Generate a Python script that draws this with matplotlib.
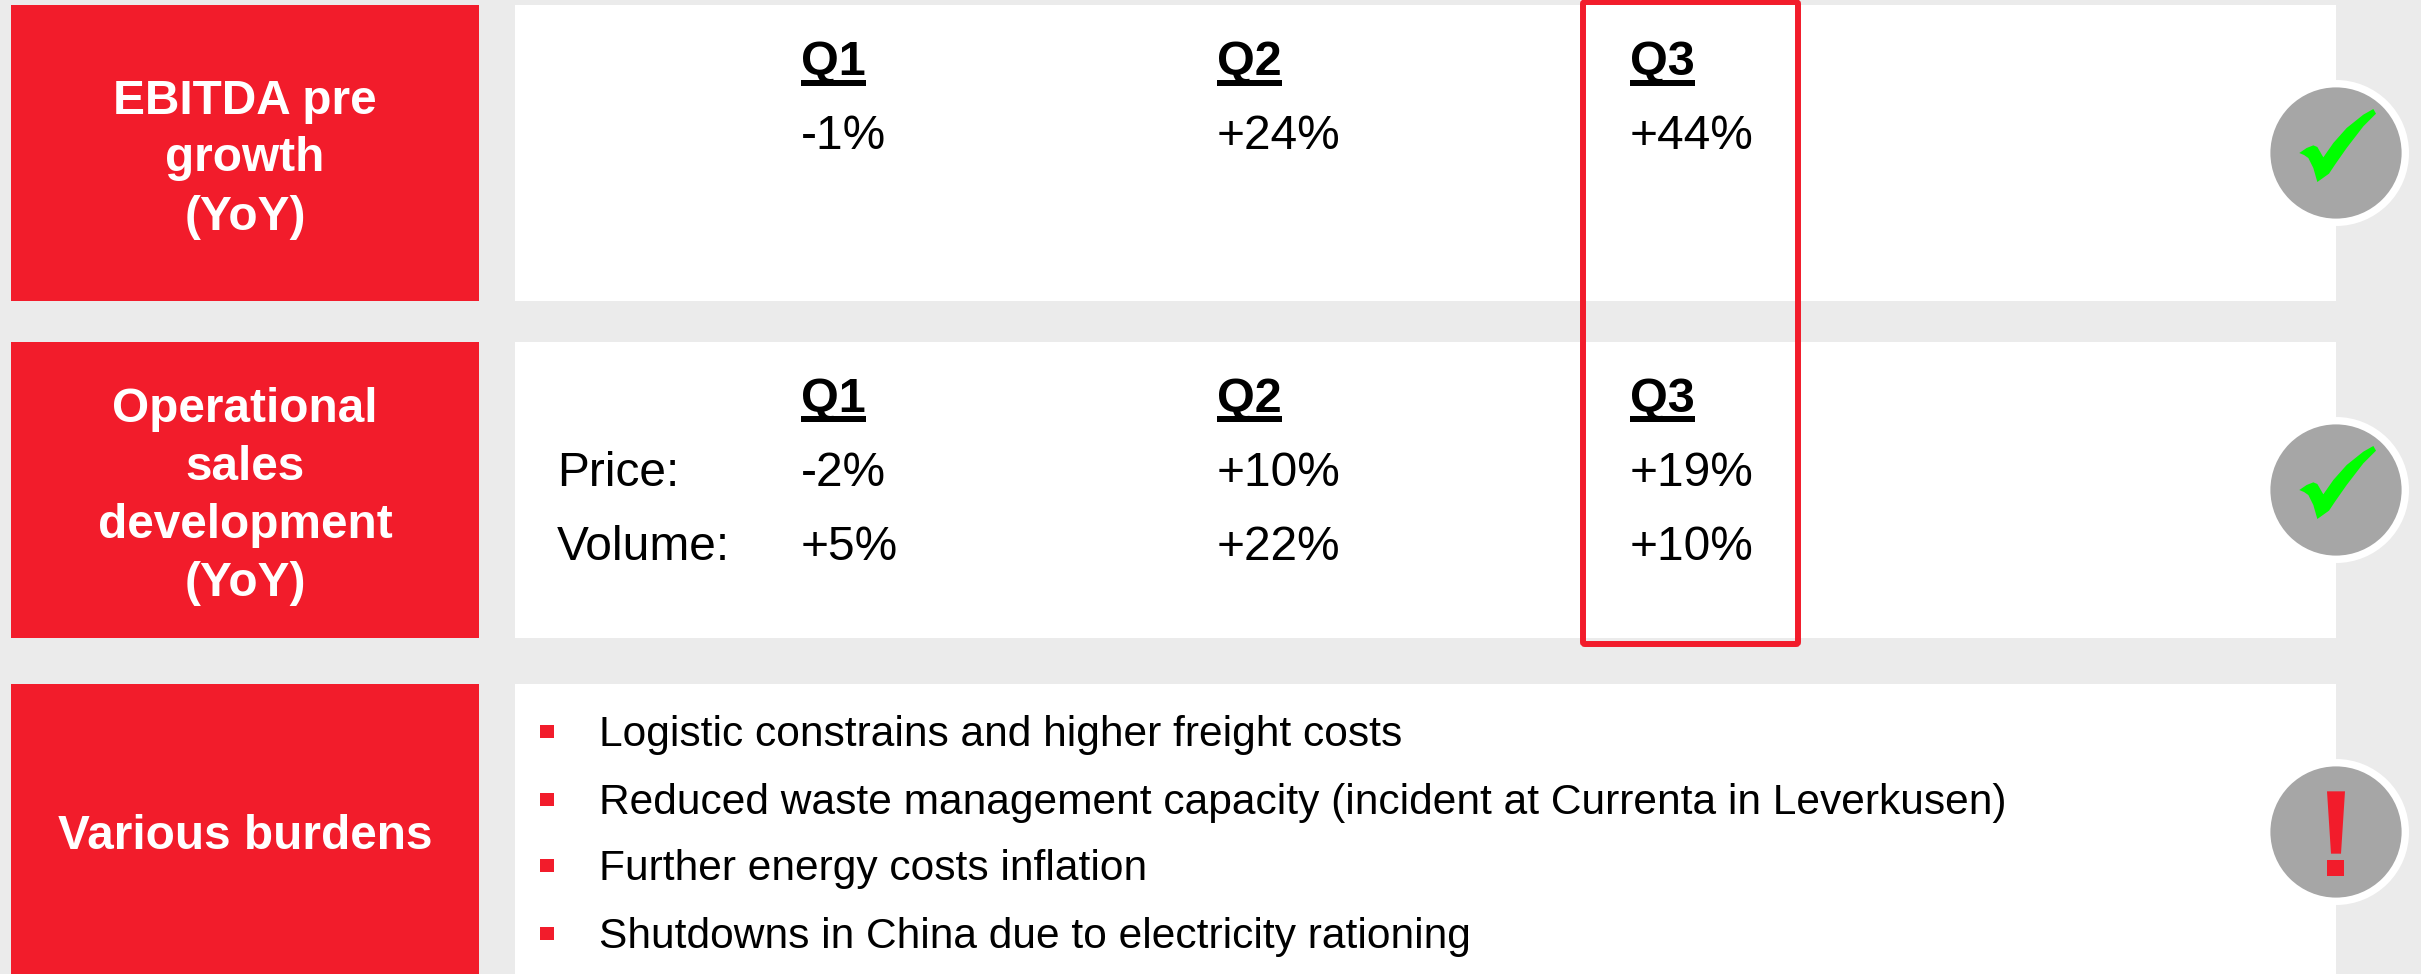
import matplotlib
matplotlib.use("Agg")
import matplotlib.pyplot as plt
from matplotlib.patches import Rectangle, Circle, Polygon, FancyBboxPatch

plt.rcParams['font.family'] = ['Liberation Sans', 'DejaVu Sans']

RED = '#F21C2B'
BG = '#EBEBEB'
GREY = '#A6A6A6'
GREEN = '#00FF00'

# ---- content ----
quarters = ['Q1', 'Q2', 'Q3']
ebitda_growth = ['-1%', '+24%', '+44%']
price_growth = ['-2%', '+10%', '+19%']
volume_growth = ['+5%', '+22%', '+10%']
row_labels = ['Price:', 'Volume:']
ebitda_title = ['EBITDA pre', 'growth', '(YoY)']
sales_title = ['Operational', 'sales', 'development', '(YoY)']
burden_title = ['Various burdens']
burdens = ['Logistic constrains and higher freight costs',
           'Reduced waste management capacity (incident at Currenta in Leverkusen)',
           'Further energy costs inflation',
           'Shutdowns in China due to electricity rationing']

W, H = 2421, 974
fig = plt.figure(figsize=(W / 100, H / 100), dpi=100, facecolor=BG)
ax = fig.add_axes([0, 0, 1, 1])
ax.set_xlim(0, W)
ax.set_ylim(H, 0)
ax.axis('off')

BODY = 34.5
LIST = 30.65
QFS = 35
TITLE = 34.4
col_x = [801, 1217, 1630]

# panels: (top, bottom)
for top, bot in [(5, 301), (342, 638), (684, 974)]:
    ax.add_patch(Rectangle((11, top), 468, bot - top, fc=RED, ec='none', zorder=1))
    ax.add_patch(Rectangle((515, top), 1821, bot - top, fc='white', ec='none', zorder=1))


def title(lines, baselines):
    for s, y in zip(lines, baselines):
        ax.text(245, y, s, color='white', fontsize=TITLE, fontweight='bold',
                ha='center', va='baseline', zorder=3)


title(ebitda_title, [114, 171, 230])
title(sales_title, [422, 480, 538, 596])
title(burden_title, [849])


def qhead(y, gap):
    for q, x in zip(quarters, col_x):
        t = ax.text(x, y, q, color='black', fontsize=QFS, fontweight='bold',
                    ha='left', va='baseline', zorder=3)
        fig.canvas.draw()
        bb = t.get_window_extent()
        ax.add_patch(Rectangle((x, y + gap), bb.width, 6, fc='black', ec='none', zorder=3))


qhead(75, 5)
for v, x in zip(ebitda_growth, col_x):
    ax.text(x, 149, v, color='black', fontsize=BODY, ha='left', va='baseline', zorder=3)

qhead(412, 4)
for label, vals, y in zip(row_labels, [price_growth, volume_growth], [486, 560]):
    ax.text(557, y, label, color='black', fontsize=BODY, ha='left', va='baseline', zorder=3)
    for v, x in zip(vals, col_x):
        ax.text(x, y, v, color='black', fontsize=BODY, ha='left', va='baseline', zorder=3)

for s, y in zip(burdens, [746, 814, 880, 948]):
    ax.add_patch(Rectangle((540, y - 21), 14, 13, fc=RED, ec='none', zorder=3))
    ax.text(599, y, s, color='black', fontsize=LIST, ha='left', va='baseline', zorder=3)

# highlight box around Q3
ax.add_patch(FancyBboxPatch((1583, 2), 215, 642, boxstyle='round,pad=0,rounding_size=2',
                            fc='none', ec=RED, lw=4.3, zorder=4, clip_on=False))

# status icons
CHECK = [(298, 310), (320, 295), (340, 287), (352, 292), (370, 323), (400, 280), (440, 235),
         (490, 195), (520, 178), (528, 192), (490, 230), (440, 295), (405, 345), (387, 372),
         (352, 397), (340, 355), (325, 325), (312, 316)]
BANG = [(381, 153), (435, 153), (423, 340), (393, 340)]
DOT = [(381, 358), (433, 358), (433, 406), (381, 406)]


def disc(cy):
    ax.add_patch(Circle((2336, cy), 73, fc='white', ec='none', zorder=5))
    ax.add_patch(Circle((2336, cy), 65.6, fc=GREY, ec='none', zorder=6))


def icon(shape, color, cy, zy):
    # shape points are in a 3x local grid whose origin is the icon centre (408, zy)
    pts = [(2336 + (px - 408) / 3, cy + (py - zy) / 3) for px, py in shape]
    ax.add_patch(Polygon(pts, closed=True, fc=color, ec='none', zorder=7))


for cy in [153, 490]:
    disc(cy)
    icon(CHECK, GREEN, cy, 310)
disc(832)
icon(BANG, RED, 832, 275)
icon(DOT, RED, 832, 275)

fig.savefig('out.png', dpi=100, facecolor=BG)
